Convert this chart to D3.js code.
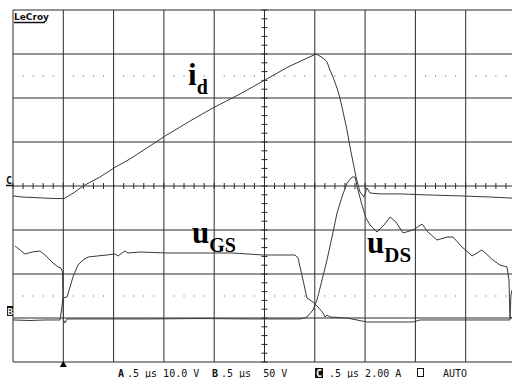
<!DOCTYPE html>
<html>
<head>
<meta charset="utf-8">
<script src="https://cdn.jsdelivr.net/npm/d3@7"></script>
<style>
  body { margin: 0; background: #fff; }
  svg { display: block; }
</style>
</head>
<body>
<div id="scope"></div>
<script>
// time base: 0.5 us/div, 10 divisions
const tId = [0.000, 0.089, 0.189, 0.318, 0.417, 0.507, 0.567, 0.616, 0.696, 0.865, 1.004, 1.163, 1.392, 1.511, 1.759, 1.988, 2.256, 2.505, 2.734, 2.903, 3.012, 3.082, 3.121, 3.151, 3.181, 3.221, 3.250, 3.270, 3.320, 3.350, 3.390, 3.410, 3.449, 3.489, 3.519, 3.549, 3.648, 3.847, 4.145, 4.443, 4.742, 4.960];
// drain current, A (2.00 A/div)
const iD = [-0.45, -0.50, -0.52, -0.55, -0.57, -0.57, -0.41, -0.27, 0.00, 0.41, 0.82, 1.23, 1.91, 2.27, 2.95, 3.55, 4.18, 4.82, 5.41, 5.77, 6.00, 5.82, 5.64, 5.27, 4.95, 4.45, 4.00, 3.59, 2.55, 1.77, 0.86, 0.41, -0.27, -0.50, -0.09, -0.32, -0.36, -0.36, -0.41, -0.45, -0.50, -0.55];

const tDs = [0.020, 0.070, 0.119, 0.189, 0.268, 0.318, 0.398, 0.447, 0.477, 0.492, 0.497, 0.502, 0.517, 0.537, 0.865, 1.362, 1.859, 2.356, 2.853, 2.903, 2.932, 2.982, 3.022, 3.072, 3.121, 3.171, 3.221, 3.270, 3.320, 3.370, 3.400, 3.429, 3.469, 3.509, 3.549, 3.618, 3.688, 3.748, 3.807, 3.877, 3.976, 4.066, 4.125, 4.215, 4.314, 4.374, 4.463, 4.563, 4.662, 4.771, 4.841, 4.911, 4.930, 4.940, 4.960];
// drain-source voltage, V (50 V/div)
const uDs = [81.8, 77.3, 72.7, 75.0, 76.1, 71.6, 62.5, 58.0, 56.8, 52.3, 20.5, -2.3, -5.7, -1.1, -1.1, -1.1, -0.6, -1.1, -1.1, 0.0, 2.3, 9.1, 20.5, 43.2, 65.9, 92.0, 119.3, 137.5, 153.4, 160.2, 160.2, 145.5, 128.4, 113.6, 105.7, 97.7, 105.7, 114.8, 109.1, 96.6, 100.0, 106.8, 97.7, 88.6, 92.0, 92.0, 80.7, 70.5, 77.3, 65.9, 60.2, 58.0, 43.2, 1.1, 0.0];

const tGs = [0.000, 0.169, 0.318, 0.467, 0.482, 0.497, 0.537, 0.567, 0.596, 0.646, 0.696, 0.746, 0.835, 0.934, 1.014, 1.044, 1.083, 1.113, 1.143, 1.262, 1.531, 1.859, 2.187, 2.485, 2.684, 2.803, 2.833, 2.883, 2.922, 2.982, 3.032, 3.082, 3.101, 3.121, 3.151, 3.320, 3.519, 3.976, 4.046, 4.473, 4.940, 4.950, 4.960];
// gate-source voltage, V (10.0 V/div)
const uGs = [-0.45, -0.57, -0.45, -0.45, 1.82, 4.55, 4.77, 7.05, 9.32, 12.05, 13.18, 13.86, 14.09, 14.32, 14.55, 14.09, 14.77, 15.23, 14.77, 15.00, 14.77, 14.77, 14.77, 14.32, 14.32, 14.32, 13.64, 8.64, 4.55, 3.64, 2.50, 1.14, 0.23, 0.68, 0.23, 0.00, -0.91, -0.91, -0.45, -0.45, -0.45, 5.23, 6.36];

const chNames = ["A", "B", "C"];
const chTime = [".5", ".5", ".5"];
const chScale = ["10.0 V", " 50 V", "2.00 A"];

const width = 512, height = 378;
const pLeft = 13, pRight = 516, pTop = 10, pBottom = 362;

const svg = d3.select("#scope").append("svg")
  .attr("width", width)
  .attr("height", height)
  .style("font-family", "'DejaVu Sans Mono', monospace");

svg.append("rect").attr("width", width).attr("height", height).attr("fill", "#fff");

const x = d3.scaleLinear().domain([0, 5]).range([pLeft, pRight]);
const yDiv = d3.scaleLinear().domain([-4, 4]).range([pBottom, pTop]);
// per-channel vertical scales (ground markers C at centre, B three divs down)
const yA = d3.scaleLinear().domain([-10, 70]).range([pBottom, pTop]);
const yB = d3.scaleLinear().domain([-50, 350]).range([pBottom, pTop]);
const yC = d3.scaleLinear().domain([-8, 8]).range([pBottom, pTop]);

const grid = svg.append("g").attr("stroke", "#2a2a2a").attr("stroke-width", 1);

// graticule
grid.selectAll(".v").data(d3.range(0, 5.001, 0.5)).enter().append("line")
  .attr("x1", d => x(d)).attr("x2", d => x(d))
  .attr("y1", pTop).attr("y2", pBottom);
grid.selectAll(".h").data(d3.range(-4, 4.001, 1)).enter().append("line")
  .attr("x1", pLeft).attr("x2", pRight)
  .attr("y1", d => yDiv(d)).attr("y2", d => yDiv(d));

// centre-line minor ticks
grid.selectAll(".tx").data(d3.range(0, 5.001, 0.1)).enter().append("line")
  .attr("x1", d => x(d)).attr("x2", d => x(d))
  .attr("y1", yDiv(0) - 3).attr("y2", yDiv(0) + 3);
grid.selectAll(".ty").data(d3.range(-4, 4.001, 0.2)).enter().append("line")
  .attr("x1", x(2.5) - 3).attr("x2", x(2.5) + 3)
  .attr("y1", d => yDiv(d)).attr("y2", d => yDiv(d));

// dotted reference levels
const dotT = d3.range(0, 51).filter(k => k % 5 !== 0).map(k => k / 10);
[2.5, -2.5].forEach(lv => {
  svg.append("g").selectAll("rect").data(dotT).enter().append("rect")
    .attr("x", d => x(d) - 0.5).attr("y", yDiv(lv) - 0.5)
    .attr("width", 1).attr("height", 1)
    .attr("fill", "#555");
});

// traces
const traces = [
  [tGs, uGs, yA],
  [tDs, uDs, yB],
  [tId, iD, yC]
];
traces.forEach(([t, v, ys]) => {
  const line = d3.line().x(d => x(d[0])).y(d => ys(d[1]));
  svg.append("path")
    .attr("d", line(d3.zip(t, v)))
    .attr("fill", "none")
    .attr("stroke", "#3a3a3a")
    .attr("stroke-width", 1)
    .attr("stroke-linejoin", "round");
});

// trace labels
const serif = "'Liberation Serif', 'Times New Roman', serif";
function label(px, py, main, sub, big, small) {
  const t = svg.append("text")
    .attr("x", px).attr("y", py)
    .style("font-family", serif).style("font-weight", "bold")
    .style("font-size", big + "px").attr("fill", "#000");
  t.append("tspan").text(main);
  t.append("tspan").attr("dy", small * 0.45).style("font-size", small + "px").text(sub);
}
label(188, 85, "i", "d", 31, 20);
label(192, 243, "u", "GS", 31, 20);
label(367, 253, "u", "DS", 31, 21);

// LeCroy logo
svg.append("text").attr("x", 14).attr("y", 20)
  .style("font-family", "'DejaVu Sans', sans-serif").style("font-weight", "bold")
  .style("font-size", "9px").attr("fill", "#111").text("LeCroy");
svg.append("line").attr("x1", 14).attr("x2", 45).attr("y1", 22.5).attr("y2", 22.5)
  .attr("stroke", "#111").attr("stroke-width", 1.5);

// ground markers
svg.append("text").attr("x", 6).attr("y", yC(0) - 2)
  .style("font-size", "10px").style("font-weight", "bold").attr("fill", "#111").text("C");
svg.append("line").attr("x1", 6).attr("x2", pLeft).attr("y1", yC(0) - 0.5).attr("y2", yC(0) - 0.5)
  .attr("stroke", "#111").attr("stroke-width", 1.5);
svg.append("rect").attr("x", 7).attr("y", yB(0) - 12).attr("width", 6).attr("height", 10).attr("fill", "#111");
svg.append("text").attr("x", 7.5).attr("y", yB(0) - 3.5)
  .style("font-size", "9px").style("font-weight", "bold").attr("fill", "#fff").text("B");

// trigger marker
svg.append("path")
  .attr("d", d3.symbol(d3.symbolTriangle, 22)())
  .attr("transform", `translate(${x(0.5)},${pBottom + 3})`)
  .attr("fill", "#000");

// channel readout
const chX = [118, 212, 316];
const readout = svg.append("g").style("font-size", "10px").attr("fill", "#111");
chNames.forEach((n, i) => {
  if (n === "C") {
    readout.append("rect").attr("x", chX[i] - 1).attr("y", 368).attr("width", 8).attr("height", 10).attr("fill", "#111");
    readout.append("text").attr("x", chX[i]).attr("y", 377).attr("fill", "#fff").style("font-weight", "bold").text(n);
  } else {
    readout.append("text").attr("x", chX[i]).attr("y", 377).style("font-weight", "bold").text(n);
  }
  readout.append("text").attr("x", chX[i] + (n === "C" ? 13 : 9)).attr("y", 377)
    .attr("xml:space", "preserve").style("white-space", "pre")
    .text(chTime[i] + " \u03bcs " + chScale[i]);
});
readout.append("rect").attr("x", 417.5).attr("y", 368.5).attr("width", 6).attr("height", 8)
  .attr("fill", "none").attr("stroke", "#111");
readout.append("text").attr("x", 443).attr("y", 377).text("AUTO");
</script>
</body>
</html>
